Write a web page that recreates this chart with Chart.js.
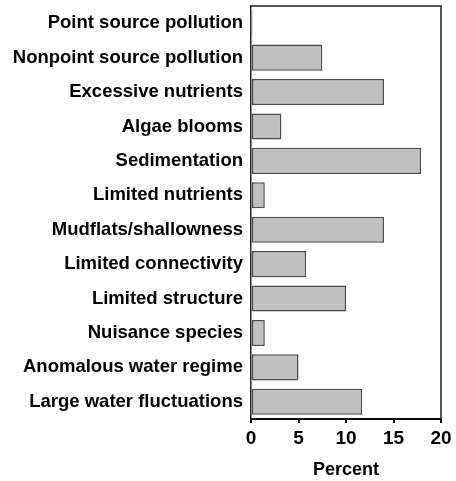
<!DOCTYPE html>
<html lang="en">
<head>
  <meta charset="UTF-8">
  <title>Percent by stressor</title>
  <style>
    html, body { margin: 0; padding: 0; background: #fff; }
    #wrap { width: 456px; height: 481px; }
  </style>
</head>
<body>
  <div id="wrap"><canvas id="chart"></canvas></div>

  <script src="https://cdn.jsdelivr.net/npm/chart.js"></script>
  <script>
    const categories = [
      'Point source pollution',
      'Nonpoint source pollution',
      'Excessive nutrients',
      'Algae blooms',
      'Sedimentation',
      'Limited nutrients',
      'Mudflats/shallowness',
      'Limited connectivity',
      'Limited structure',
      'Nuisance species',
      'Anomalous water regime',
      'Large water fluctuations'
    ];
    const percents = [0.15, 7.5, 14.0, 3.2, 17.9, 1.45, 14.0, 5.8, 10.0, 1.45, 5.0, 11.7];
    const xTicks = [0, 5, 10, 15, 20];

    const fontFamily = '"Liberation Sans", Arial, sans-serif';

    // box around the plot area (top and right sides)
    const frame = {
      id: 'frame',
      afterDatasetsDraw(chart) {
        const { ctx, chartArea: a } = chart;
        ctx.save();
        ctx.strokeStyle = '#222';
        ctx.lineWidth = 1.5;
        ctx.beginPath();
        ctx.moveTo(a.left, a.top);
        ctx.lineTo(a.right, a.top);
        ctx.lineTo(a.right, a.bottom);
        ctx.stroke();
        ctx.restore();
      }
    };

    new Chart(document.getElementById('chart'), {
      type: 'bar',
      data: {
        labels: categories,
        datasets: [{
          data: percents,
          backgroundColor: '#c0c0c0',
          borderColor: '#4a4a4a',
          borderWidth: 1.5,
          borderSkipped: false,
          categoryPercentage: 1,
          barPercentage: 0.76
        }]
      },
      options: {
        indexAxis: 'y',
        responsive: true,
        maintainAspectRatio: false,
        animation: false,
        layout: { padding: { top: 6, right: 15, bottom: 0, left: 0 } },
        plugins: { legend: { display: false }, tooltip: { enabled: false } },
        scales: {
          x: {
            min: 0,
            max: 20,
            afterBuildTicks: axis => { axis.ticks = xTicks.map(v => ({ value: v })); },
            afterFit: axis => { axis.height = 62; },
            grid: { display: true, drawOnChartArea: false, drawTicks: true, tickLength: 4, color: '#000', lineWidth: 2 },
            border: { display: true, color: '#000', width: 2 },
            ticks: { color: '#000', padding: 4, font: { family: fontFamily, size: 19, weight: 'bold' } },
            title: {
              display: true,
              text: 'Percent',
              color: '#000',
              padding: { top: 3, bottom: 0 },
              font: { family: fontFamily, size: 18, weight: 'bold' }
            }
          },
          y: {
            afterFit: axis => { axis.width = 251; axis.paddingTop = 0; axis.paddingBottom = 0; },
            grid: { display: false },
            border: { display: true, color: '#222', width: 1.5 },
            ticks: { color: '#000', padding: 0, autoSkip: false, font: { family: fontFamily, size: 18.5, weight: 'bold' } }
          }
        }
      },
      plugins: [frame]
    });
  </script>
</body>
</html>
